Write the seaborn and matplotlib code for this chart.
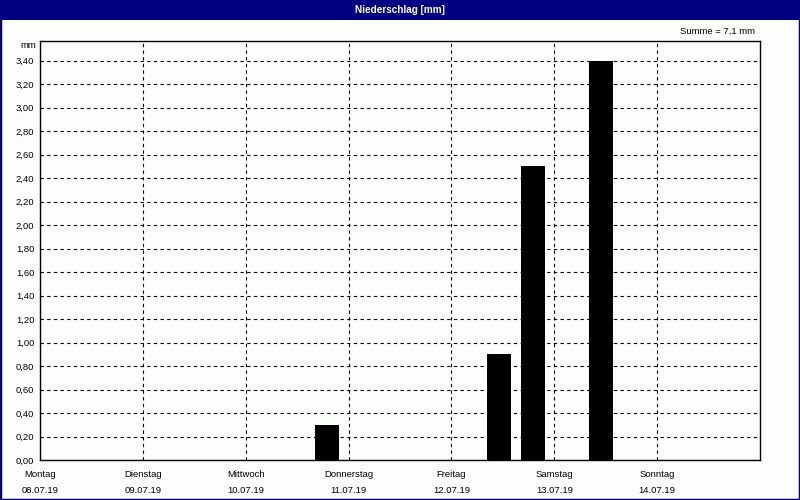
import numpy as np
import pandas as pd
import matplotlib
matplotlib.use("Agg")
import matplotlib.pyplot as plt
from matplotlib.patches import Rectangle
import seaborn as sns

# 8-Stunden-Intervalle ueber eine Woche (21 Intervalle)
intervall = list(range(21))
niederschlag = [0, 0, 0, 0, 0, 0, 0, 0, 0.30, 0, 0, 0, 0, 0.90, 2.50, 0, 3.40, 0, 0, 0, 0]

tage = ["Montag", "Dienstag", "Mittwoch", "Donnerstag", "Freitag", "Samstag", "Sonntag"]
daten = ["08.07.19", "09.07.19", "10.07.19", "11.07.19", "12.07.19", "13.07.19", "14.07.19"]
y_ticks = [0.0, 0.2, 0.4, 0.6, 0.8, 1.0, 1.2, 1.4, 1.6, 1.8, 2.0, 2.2, 2.4, 2.6, 2.8, 3.0, 3.2, 3.4]

df = pd.DataFrame({"intervall": intervall, "niederschlag": niederschlag})

sns.set_style("white")
plt.rcParams["font.family"] = ["Liberation Sans", "DejaVu Sans"]
plt.rcParams["font.size"] = 6.8

bg = "#fcfefc"
navy = "#000080"

fig = plt.figure(figsize=(8, 5), dpi=100, facecolor=bg)
ax = fig.add_axes([0.05, 0.08, 0.90, 0.8386])
ax.set_facecolor(bg)

sns.barplot(data=df, x="intervall", y="niederschlag", color="black",
            width=0.7, errorbar=None, saturation=1, linewidth=0, ax=ax)

# Achsen
ax.set_xlim(-0.375, 20.625)
ax.set_ylim(0, 3.57)
day_pos = [-0.375 + 3 * i for i in range(7)]
ax.set_xticks(day_pos)
ax.set_xticklabels([f"{t}\n{d}" for t, d in zip(tage, daten)], linespacing=1.9)
ax.set_yticks(y_ticks)
ax.set_yticklabels([f"{v:.2f}".replace(".", ",") for v in y_ticks])
ax.set_xlabel("")
ax.set_ylabel("")

ax.set_axisbelow(True)
ax.grid(True, color="black", linestyle=(0, (3, 3)), linewidth=0.8)
ax.tick_params(axis="y", length=0, pad=4, labelcolor="black")
ax.tick_params(axis="x", length=4, width=0.8, color="black", pad=3.5, labelcolor="black")
for s in ax.spines.values():
    s.set_visible(True)
    s.set_color("black")
    s.set_linewidth(1)

# Texte
fig.text(36 / 800, 1 - 45 / 500, "mm", ha="right", va="center", color="black")
fig.text(755 / 800, 1 - 31 / 500, "Summe = 7,1 mm", ha="right", va="center", color="black")

# Titelleiste und Rahmen
fig.patches.append(Rectangle((0, 1 - 20 / 500), 1, 20 / 500, transform=fig.transFigure,
                             facecolor=navy, edgecolor="none", zorder=0))
fig.patches.append(Rectangle((0, 0), 1, 1, transform=fig.transFigure, fill=False,
                             edgecolor=navy, linewidth=2.5, zorder=5))
fig.text(0.5, 1 - 10 / 500, "Niederschlag [mm]", ha="center", va="center",
         color="white", fontweight="bold", fontsize=7.2)

fig.savefig("out.png", dpi=100, facecolor=bg)
